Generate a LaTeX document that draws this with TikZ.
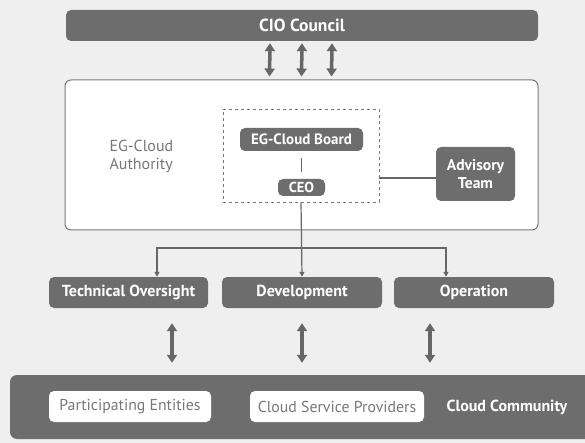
\documentclass[tikz,border=0pt]{standalone}
\usepackage{fontspec}
\setmainfont{PT Sans}
\usetikzlibrary{arrows.meta}
\definecolor{pagegray}{HTML}{EFEFEF}
\definecolor{boxgray}{HTML}{6D6D6D}
\definecolor{linegray}{HTML}{666666}
\definecolor{textgray}{HTML}{787878}
\tikzset{
    dark box/.style={rectangle, fill=boxgray, rounded corners=5pt, text=white, inner sep=0pt,
        font=\bfseries\fontsize{16}{19}\selectfont},
    light box/.style={rectangle, fill=white, rounded corners=5pt, text=textgray, inner sep=0pt,
        font=\fontsize{15.8}{18}\selectfont},
    both ways/.style={draw=linegray, line width=3.5pt,
        {Triangle[width=10pt,length=8pt]}-{Triangle[width=10pt,length=8pt]}}
}

\begin{document}
\begin{tikzpicture}[x=1pt, y=-1pt, branch/.style={draw=linegray, line width=1.2pt, -{Triangle[width=5pt,length=5pt]}}]
\useasboundingbox (0,0) rectangle (585,443);
\fill[pagegray] (0,0) rectangle (585,443);

\node[dark box, font=\bfseries\fontsize{17.5}{20}\selectfont, minimum width=472pt, minimum height=31pt] (cio) at (302,25.5) {CIO Council};
\node[rectangle, draw=textgray, fill=white, line width=1pt, rounded corners=6pt,
    minimum width=473pt, minimum height=150pt] (auth) at (301.5,155) {};
\node[anchor=west, align=left, text=textgray, font=\fontsize{16}{18}\selectfont] (authlabel) at (106,156) {EG-Cloud\\Authority};
\node[rectangle, draw=textgray, dashed, line width=0.6pt, minimum width=156pt, minimum height=93pt] (core) at (301,155.5) {};
\node[dark box, font=\bfseries\fontsize{15}{18}\selectfont, minimum width=123pt, minimum height=23pt] (board) at (301.5,139.5) {EG-Cloud Board};
\node[dark box, font=\bfseries\fontsize{14.5}{17}\selectfont, minimum width=47pt, minimum height=17pt] (ceo) at (301.5,187.5) {CEO};
\node[dark box, font=\bfseries\fontsize{15.6}{18}\selectfont, align=center, minimum width=79pt, minimum height=54pt] (adv) at (475.5,174) {Advisory\\Team};

\node[dark box, minimum width=159pt, minimum height=31pt] (tech) at (128.5,292.5) {Technical Oversight};
\node[dark box, minimum width=160pt, minimum height=31pt] (dev) at (302,292.5) {Development};
\node[dark box, minimum width=160pt, minimum height=31pt] (op) at (474,292.5) {Operation};

\node[dark box, rounded corners=7pt, minimum width=590pt, minimum height=64pt] (comm) at (305,407) {};
\node[light box, minimum width=162pt, minimum height=31pt] (part) at (130,406.5) {Participating Entities};
\node[light box, minimum width=174pt, minimum height=31pt] (csp) at (337,406.5) {Cloud Service Providers};
\node[text=white, font=\bfseries\fontsize{16}{19}\selectfont] (commlabel) at (507,407) {Cloud Community};

% council <-> authority
\foreach \dx in {-32,0,30}
    \draw[both ways, shorten <=2pt, shorten >=3pt] ([xshift=\dx pt]cio.south) -- ([xshift=\dx pt]auth.north);

\draw[draw=linegray, line width=1.5pt, shorten <=7pt, shorten >=7pt] (board) -- (ceo);
\draw[draw=linegray, line width=1.5pt] ([yshift=-4pt]adv.west) -- ([yshift=-4pt]adv.west -| core.east);

% authority -> units
\coordinate (split) at (302,248);
\draw[branch] (core.south) -- (dev.north);
\draw[branch] (split) -| ([xshift=28.5pt]tech.north);
\draw[branch] (split) -| ([xshift=-28pt]op.north);

% units <-> community
\draw[both ways, shorten <=15pt, shorten >=12pt] ([xshift=43.5pt]tech.south) -- ([xshift=43.5pt]tech.south |- comm.north);
\draw[both ways, shorten <=15pt, shorten >=12pt] (dev.south) -- (dev.south |- comm.north);
\draw[both ways, shorten <=15pt, shorten >=12pt] ([xshift=-44pt]op.south) -- ([xshift=-44pt]op.south |- comm.north);
\end{tikzpicture}
\end{document}
